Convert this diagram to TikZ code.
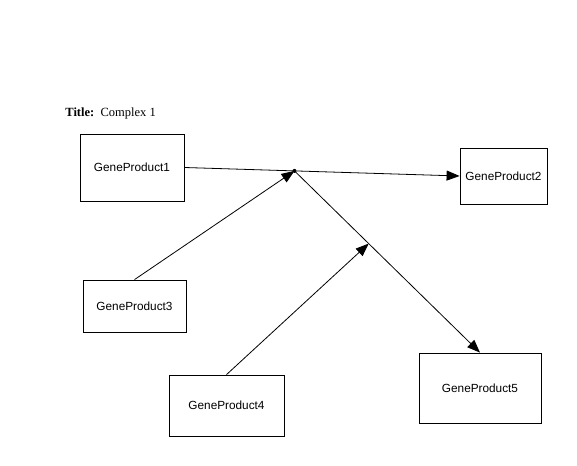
\documentclass[tikz,border=0pt]{standalone}
\usepackage{fontspec}
\setmainfont{Liberation Serif}
\setsansfont{Liberation Sans}
\usetikzlibrary{arrows.meta}

\begin{document}
\begin{tikzpicture}[x=1pt,y=-1pt,line width=0.8pt,
gene/.style={draw, inner sep=0pt, font=\sffamily\fontsize{11.8}{13}\selectfont},
link/.style={-{Triangle[length=13pt,width=10pt]}}]
\useasboundingbox (0,0) rectangle (577,465);

\node[anchor=base west, inner sep=0pt, font=\fontsize{12.5}{14}\selectfont] (title) at (65,117) {\textbf{Title:}\ \ Complex 1};

\node[gene, minimum width=104pt, minimum height=67pt] (gp1) at (132,167.5) {GeneProduct1};
\node[gene, minimum width=87pt, minimum height=56pt] (gp2) at (503.5,176) {GeneProduct2};
\node[gene, minimum width=103pt, minimum height=52pt] (gp3) at (134.5,306) {GeneProduct3};
\node[gene, minimum width=115pt, minimum height=61pt] (gp4) at (226.5,405.5) {GeneProduct4};
\node[gene, minimum width=122pt, minimum height=70pt] (gp5) at (480,388) {GeneProduct5};

% junction of the complex
\path (gp1.east) -- (gp2.west) coordinate[pos=0.4] (junction);
\path (junction) -- (gp5.north) coordinate[pos=0.4] (hit);

\draw[link] (gp1.east) -- (gp2.west);
\draw[link] (gp3.north) -- (junction);
\draw[link] (junction) -- (gp5.north);
\draw[link] (gp4.north) -- (hit);
\fill (junction) circle (2pt);
\end{tikzpicture}
\end{document}
